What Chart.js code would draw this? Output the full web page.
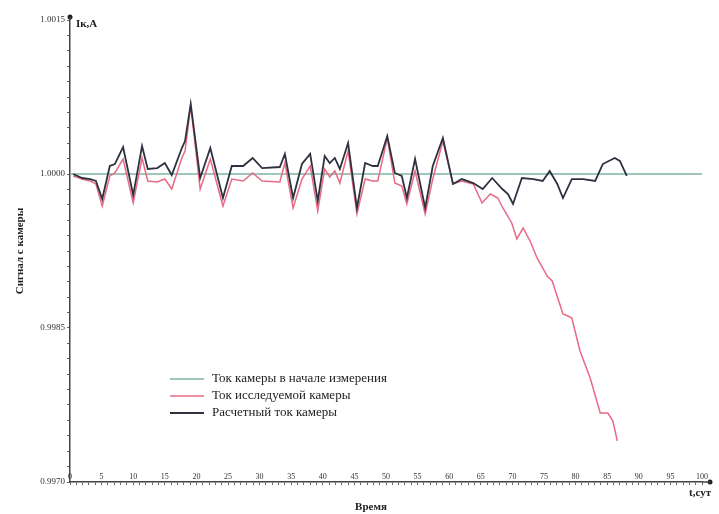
<!DOCTYPE html>
<html>
<head>
<meta charset="utf-8">
<script src="https://cdn.jsdelivr.net/npm/chart.js@4/dist/chart.umd.min.js"></script>
<style>
  body { margin: 0; background: #fff; }
  #wrap { width: 719px; height: 514px; position: relative; }
</style>
</head>
<body>
<div id="wrap"><canvas id="chamber-chart" width="719" height="514"></canvas></div>
<script>
// время, сут
const calcDays = [0.5, 1.9, 3.2, 4.1, 5.1, 6.3, 7.1, 8.4, 10.0, 11.4,
  12.3, 13.8, 15.0, 16.1, 17.7, 18.2, 19.1, 20.6, 22.2, 24.2,
  25.6, 27.4, 28.9, 30.4, 33.2, 34.0, 35.3, 36.7, 38.0, 39.2,
  40.3, 41.1, 41.9, 42.7, 44.0, 45.4, 46.7, 47.9, 48.7, 50.2,
  51.4, 52.5, 53.3, 54.6, 56.2, 57.4, 59.0, 60.6, 62.0, 63.8,
  65.3, 66.8, 68.4, 69.3, 70.1, 71.5, 73.3, 74.8, 75.9, 77.1,
  78.0, 79.4, 81.2, 83.1, 84.3, 86.2, 87.0, 88.1];
const calcCurrent = [1.000000, 0.999961, 0.999951, 0.999932, 0.999756, 1.000078, 1.000097, 1.000263, 0.999795, 1.000273,
  1.000049, 1.000058, 1.000107, 0.999990, 1.000253, 1.000321, 1.000682, 0.999961, 1.000253, 0.999766,
  1.000078, 1.000078, 1.000156, 1.000058, 1.000068, 1.000195, 0.999766, 1.000097, 1.000195, 0.999737,
  1.000175, 1.000107, 1.000156, 1.000049, 1.000302, 0.999669, 1.000107, 1.000078, 1.000078, 1.000370,
  1.000010, 0.999981, 0.999766, 1.000146, 0.999669, 1.000078, 1.000351, 0.999903, 0.999951, 0.999912,
  0.999854, 0.999961, 0.999854, 0.999805, 0.999708, 0.999961, 0.999951, 0.999932, 1.000029, 0.999903,
  0.999766, 0.999951, 0.999951, 0.999932, 1.000097, 1.000156, 1.000127, 0.999981];

const measDays = [0.5, 1.9, 3.2, 4.1, 5.1, 6.3, 7.1, 8.4, 10.0, 11.4,
  12.3, 13.8, 15.0, 16.1, 17.7, 18.2, 19.1, 20.6, 22.2, 24.2,
  25.6, 27.4, 28.9, 30.4, 33.2, 34.0, 35.3, 36.7, 38.0, 39.2,
  40.3, 41.1, 41.9, 42.7, 44.0, 45.4, 46.7, 47.9, 48.7, 50.2,
  51.4, 52.5, 53.3, 54.6, 56.2, 57.4, 59.0, 60.6, 62.0, 63.8,
  65.2, 66.5, 67.7, 68.5, 69.9, 70.7, 71.7, 72.8, 73.9, 75.5,
  76.3, 78.0, 78.8, 79.4, 80.7, 82.3, 83.9, 85.1, 85.9, 86.6];
const measCurrent = [0.999981, 0.999951, 0.999932, 0.999903, 0.999688, 0.999981, 1.000010, 1.000146, 0.999718, 1.000156,
  0.999932, 0.999922, 0.999951, 0.999854, 1.000156, 1.000224, 1.000662, 0.999854, 1.000146, 0.999688,
  0.999951, 0.999932, 1.000010, 0.999932, 0.999922, 1.000107, 0.999669, 0.999951, 1.000078, 0.999640,
  1.000049, 0.999971, 1.000029, 0.999912, 1.000224, 0.999610, 0.999951, 0.999932, 0.999932, 1.000351,
  0.999912, 0.999883, 0.999708, 1.000029, 0.999610, 0.999951, 1.000321, 0.999903, 0.999932, 0.999903,
  0.999718, 0.999805, 0.999766, 0.999669, 0.999523, 0.999367, 0.999474, 0.999347, 0.999182, 0.999006,
  0.998958, 0.998636, 0.998617, 0.998597, 0.998276, 0.998013, 0.997672, 0.997672, 0.997594, 0.997399];

const initDays = [0, 100];
const initCurrent = [1.0, 1.0];

const yMin = 0.997, yMax = 1.0015, yStep = 0.00015;

const seriesNames = ['Ток камеры в начале измерения', 'Ток исследуемой камеры', 'Расчетный ток камеры'];
const seriesColors = ['#7fb3a6', '#e86a85', '#2e3240'];

const toPoints = (xs, ys) => xs.map((x, i) => ({ x: x, y: ys[i] }));

const serif = '"Liberation Serif", "DejaVu Serif", serif';

// подписи, стрелки осей и легенда
const extras = {
  id: 'extras',
  afterDraw(chart) {
    const c = chart.ctx;
    const area = chart.chartArea;
    c.save();
    c.fillStyle = '#222';
    // стрелки
    c.beginPath(); c.arc(area.left, area.top - 3, 2.5, 0, Math.PI * 2); c.fill();
    c.beginPath(); c.arc(area.right + 8, area.bottom, 2.5, 0, Math.PI * 2); c.fill();
    c.strokeStyle = '#444'; c.lineWidth = 1.5;
    c.beginPath(); c.moveTo(area.left, area.top - 3); c.lineTo(area.left, area.top); c.stroke();
    c.beginPath(); c.moveTo(area.right, area.bottom); c.lineTo(area.right + 8, area.bottom); c.stroke();

    c.font = 'bold 11px ' + serif;
    c.textBaseline = 'middle';
    c.textAlign = 'left';
    c.fillText('Iк,А', area.left + 6, 24);
    c.fillText('t,сут', 689, 493);
    c.textAlign = 'center';
    c.fillText('Время', 371, 507);
    c.save();
    c.translate(20, 251);
    c.rotate(-Math.PI / 2);
    c.fillText('Сигнал с камеры', 0, 0);
    c.restore();

    // легенда
    c.font = '13px ' + serif;
    c.textAlign = 'left';
    seriesNames.forEach((name, i) => {
      const y = 379 + i * 17;
      c.strokeStyle = seriesColors[i];
      c.lineWidth = i === 2 ? 1.8 : 1.5;
      c.beginPath(); c.moveTo(170, y); c.lineTo(204, y); c.stroke();
      c.fillStyle = '#222';
      c.fillText(name, 212, y);
    });
    c.restore();
  }
};

new Chart(document.getElementById('chamber-chart'), {
  type: 'line',
  data: {
    datasets: [{
      label: seriesNames[0],
      data: toPoints(initDays, initCurrent),
      borderColor: seriesColors[0],
      borderWidth: 1.5,
      pointRadius: 0,
      order: 3
    }, {
      label: seriesNames[1],
      data: toPoints(measDays, measCurrent),
      borderColor: seriesColors[1],
      borderWidth: 1.5,
      pointRadius: 0,
      tension: 0,
      order: 2
    }, {
      label: seriesNames[2],
      data: toPoints(calcDays, calcCurrent),
      borderColor: seriesColors[2],
      borderWidth: 1.8,
      pointRadius: 0,
      tension: 0,
      order: 1
    }]
  },
  options: {
    responsive: false,
    animation: false,
    layout: { padding: { top: 20, right: 17, left: 0, bottom: 0 } },
    plugins: {
      legend: { display: false },
      tooltip: { enabled: false }
    },
    scales: {
      x: {
        type: 'linear',
        min: 0,
        max: 100,
        afterFit: scale => { scale.height = 32; },
        border: { color: '#444', width: 1.5 },
        grid: { drawOnChartArea: false, color: '#666', tickLength: 3 },
        ticks: {
          stepSize: 1,
          autoSkip: false,
          maxRotation: 0,
          mirror: true,
          padding: 0,
          color: '#333',
          font: { family: serif, size: 8 },
          callback: v => (v % 5 === 0 ? v : '')
        }
      },
      y: {
        type: 'linear',
        min: yMin,
        max: yMax,
        afterFit: scale => { scale.width = 70; },
        border: { color: '#444', width: 1.5 },
        grid: { drawOnChartArea: false, color: '#666', tickLength: 3 },
        ticks: {
          stepSize: yStep,
          autoSkip: false,
          padding: 2,
          color: '#333',
          font: { family: serif, size: 9 },
          callback: v => (Math.round((v - yMin) / yStep) % 10 === 0 ? v.toFixed(4) : '')
        }
      }
    }
  },
  plugins: [extras]
});
</script>
</body>
</html>
